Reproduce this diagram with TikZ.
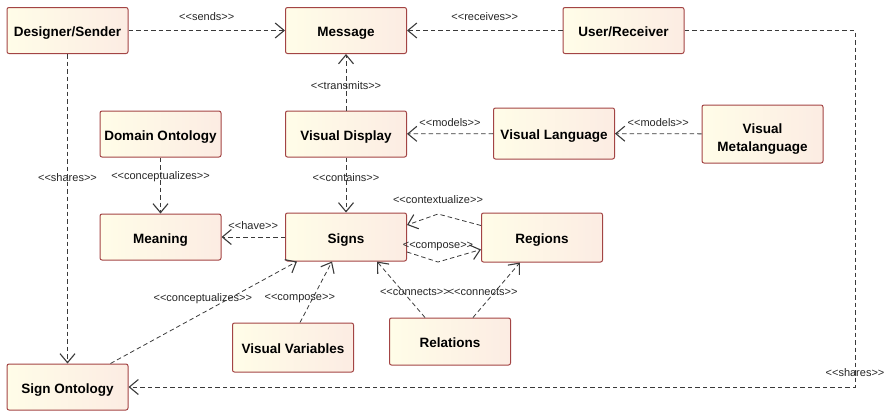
\documentclass[tikz,border=0pt]{standalone}
\usepackage{fontspec}
\setmainfont{Liberation Sans}
\newfontfamily\stereofont{Liberation Sans}
\usepackage{tikz}
\usetikzlibrary{arrows.meta,positioning,calc}
\definecolor{BoxEdge}{HTML}{A34444}
\definecolor{BoxLeft}{HTML}{FFFDE8}
\definecolor{BoxRight}{HTML}{FCECE3}
\definecolor{Link}{HTML}{3A3A3A}

\begin{document}
\begin{tikzpicture}[x=1pt,y=-1pt,
  box/.style={draw=BoxEdge,line width=1pt,rounded corners=2pt,left color=BoxLeft,right color=BoxRight,
    minimum width=121pt,minimum height=46pt,align=center,text height=14.5pt,text depth=2pt,
    font=\fontsize{13.5}{17.5}\selectfont\bfseries},
  dep/.style={-{Straight Barb[length=9pt,width=15pt,line width=1.1pt]},Link,line width=0.8pt,dash pattern=on 4.5pt off 3pt},
  lbl/.style={font=\stereofont\fontsize{11}{13}\selectfont,text=black!85,inner sep=1pt}]
  \useasboundingbox (0,0) rectangle (889,410);
  \node[box] (sender) at (67.5,30.5) {Designer/Sender};
  \node[box] (message) at (346,30.5) {Message};
  \node[box] (user) at (623.5,30.5) {User/Receiver};
  \node[box] (domain) at (160.5,134) {Domain Ontology};
  \node[box] (display) at (346,134) {Visual Display};
  \node[box,minimum height=51pt] (vlang) at (554,133.5) {Visual Language};
  \node[box,minimum height=58pt,text height=,text depth=] (vmeta) at (762.5,134) {\rule{0pt}{20pt}Visual\\Metalanguage};
  \node[box] (meaning) at (160.5,237) {Meaning};
  \node[box,minimum height=48pt] (signs) at (346,237) {Signs};
  \node[box,minimum height=49pt] (regions) at (542,237.5) {Regions};
  \node[box,minimum height=49pt] (vvars) at (293,347.5) {Visual Variables};
  \node[box,minimum height=47pt] (relations) at (450,341.5) {Relations};
  \node[box] (signont) at (67.5,387) {Sign Ontology};
  \draw[dep](sender)--node[lbl,above=8pt]{<<sends>>}(message);
  \draw[dep](user)--node[lbl,above=8pt]{<<receives>>}(message);
  \draw[dep](display)--node[lbl,pos=0.45]{<<transmits>>}(message);
  \draw[dep](vlang)--node[lbl,above=6pt]{<<models>>}(display);
  \draw[dep](vmeta)--node[lbl,above=6pt]{<<models>>}(vlang);
  \draw[dep](domain)--node[lbl,pos=0.35]{<<conceptualizes>>}(meaning);
  \draw[dep](display)--node[lbl,pos=0.36]{<<contains>>}(signs);
  \draw[dep](sender)--node[lbl,pos=0.4]{<<shares>>}(signont);
  \draw[dep](signs)--node[lbl,above=6pt]{<<have>>}(meaning);
  % receiver shares the sign ontology (runs round the right side)
  \coordinate (corner) at (855,30.5);
  \draw[dep](user.east)--(corner)|-node[lbl,pos=0.48]{<<shares>>}(signont.east);
  \coordinate (ctxbend) at (438,214);
  \coordinate (cmpbend) at (438,262);
  \draw[dep]([yshift=12pt]regions.west)--(ctxbend)node[lbl,above=9pt]{<<contextualize>>}--([yshift=12pt]signs.east);
  \draw[dep]([yshift=-15pt]signs.east)--(cmpbend)node[lbl,above=10pt]{<<compose>>}--([yshift=-12pt]regions.west);
  \draw[dep]([xshift=-25pt]relations.north)--node[lbl,pos=0.46,xshift=12pt]{<<connects>>}([xshift=31pt]signs.south);
  \draw[dep]([xshift=23pt]relations.north)--node[lbl,pos=0.46,xshift=-12pt]{<<connects>>}([xshift=-22pt]regions.south);
  \draw[dep]([xshift=7pt]vvars.north)--node[lbl,pos=0.4,xshift=-13pt]{<<compose>>}([xshift=-14pt]signs.south);
  \draw[dep]([xshift=43pt]signont.north)--node[lbl,pos=0.64,xshift=-27pt]{<<conceptualizes>>}([xshift=-49pt]signs.south);
\end{tikzpicture}
\end{document}
